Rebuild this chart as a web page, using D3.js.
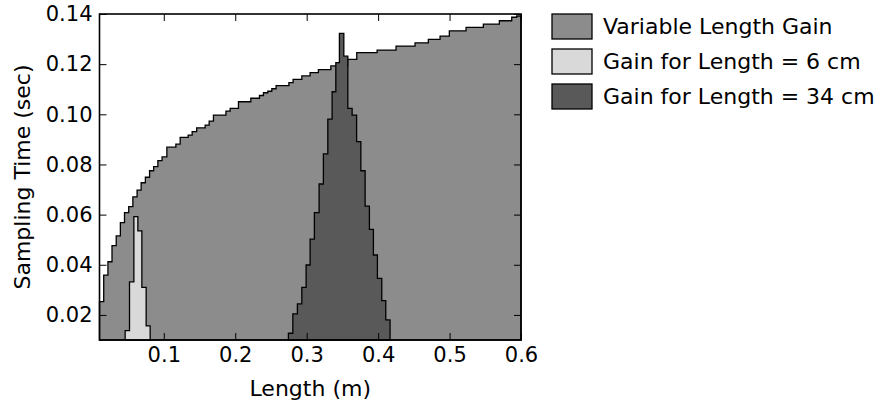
<!DOCTYPE html>
<html>
<head>
<meta charset="utf-8">
<script src="https://cdn.jsdelivr.net/npm/d3@7"></script>
<style>
  body { margin: 0; background: #fff; }
  text { font-family: "DejaVu Sans", sans-serif; fill: #000; }
</style>
</head>
<body>
<div class="chart"></div>
<script>
//Config
var width = 883,
    height = 404,
    margin = {
      top : 14,
      bottom : 64,
      right : 362,
      left : 99.5
    };

//Data (length in m, sampling time in sec) - step runs
var gainLen = [0.0100, 0.0159, 0.0218, 0.0275, 0.0334, 0.0392, 0.0450, 0.0509, 0.0567, 0.0626,
               0.0683, 0.0742, 0.0801, 0.0858, 0.0917, 0.0976, 0.1043, 0.1169, 0.1229, 0.1341,
               0.1397, 0.1460, 0.1579, 0.1635, 0.1695, 0.1870, 0.1929, 0.2045, 0.2218, 0.2339,
               0.2395, 0.2456, 0.2512, 0.2572, 0.2751, 0.2810, 0.2932, 0.3048, 0.3164, 0.3338,
               0.3573, 0.3701, 0.3986, 0.4251, 0.4517, 0.4703, 0.4867, 0.4997, 0.5231, 0.5473,
               0.5697, 0.5870, 0.5940, 0.6000];
var gainTime = [0.0253, 0.0359, 0.0412, 0.0476, 0.0515, 0.0568, 0.0608, 0.0632, 0.0671, 0.0698,
                0.0727, 0.0749, 0.0775, 0.0791, 0.0815, 0.0830, 0.0869, 0.0881, 0.0908, 0.0917,
                0.0931, 0.0946, 0.0957, 0.0973, 0.0997, 0.1013, 0.1024, 0.1050, 0.1064, 0.1075,
                0.1086, 0.1092, 0.1102, 0.1114, 0.1126, 0.1139, 0.1153, 0.1166, 0.1178, 0.1193,
                0.1219, 0.1246, 0.1256, 0.1272, 0.1285, 0.1299, 0.1312, 0.1333, 0.1347, 0.1360,
                0.1373, 0.1387, 0.1392, 0.1392];

var len6Len = [0.0459, 0.0520, 0.0581, 0.0637, 0.0693, 0.0753, 0.0809];
var len6Time = [0.0137, 0.0332, 0.0592, 0.0535, 0.0310, 0.0156, 0.0156];

var len34Len = [0.2744, 0.2806, 0.2870, 0.2932, 0.2992, 0.3048, 0.3108, 0.3174, 0.3234, 0.3296,
                0.3356, 0.3408, 0.3458, 0.3520, 0.3576, 0.3636, 0.3699, 0.3758, 0.3818, 0.3878,
                0.3934, 0.3990, 0.4051, 0.4107, 0.4167];
var len34Time = [0.0127, 0.0204, 0.0244, 0.0310, 0.0399, 0.0502, 0.0608, 0.0722, 0.0842, 0.0981,
                 0.1090, 0.1206, 0.1323, 0.1232, 0.1024, 0.0997, 0.0891, 0.0775, 0.0634, 0.0541,
                 0.0439, 0.0346, 0.0257, 0.0180, 0.0180];

var xTicks = [0.1, 0.2, 0.3, 0.4, 0.5, 0.6];
var yTicks = [0.02, 0.04, 0.06, 0.08, 0.10, 0.12, 0.14];

var seriesNames = ["Variable Length Gain", "Gain for Length = 6 cm", "Gain for Length = 34 cm"];
var seriesColors = ["#8c8c8c", "#d9d9d9", "#595959"];

//Instance element
var svg = d3.select(".chart")
    .append("svg")
    .attr("width", width)
    .attr("height", height);

var x = d3.scaleLinear()
    .domain([0.01, 0.6])
    .range([margin.left, width - margin.right]);

var y = d3.scaleLinear()
    .domain([0.01, 0.14])
    .range([height - margin.bottom, margin.top]);

var area = d3.area()
    .curve(d3.curveStepAfter)
    .x(function (d) { return x(d[0]); })
    .y0(y(0.01))
    .y1(function (d) { return y(d[1]); });

var series = [
  d3.zip(gainLen, gainTime),
  d3.zip(len6Len, len6Time),
  d3.zip(len34Len, len34Time)
];

svg.append("g")
  .selectAll("path")
  .data(series)
  .enter()
  .append("path")
  .attr("d", area)
  .style("fill", function (d, i) { return seriesColors[i]; })
  .style("stroke", "#000")
  .style("stroke-width", "1.3px")
  .style("stroke-linejoin", "miter");

//Axes (ticks inside on all four sides)
var plotBottom = height - margin.bottom,
    plotRight = width - margin.right;

function styleAxis(g) {
  g.select(".domain").remove();
  g.selectAll(".tick line").style("stroke", "#000").style("stroke-width", "1px");
  g.selectAll(".tick text")
    .style("font-family", "'DejaVu Sans', sans-serif")
    .style("font-size", "21px")
    .style("fill", "#000");
}

svg.append("g")
  .attr("transform", "translate(0," + plotBottom + ")")
  .call(d3.axisBottom(x).tickValues(xTicks).tickSize(-7).tickPadding(7).tickFormat(d3.format(".1f")))
  .call(styleAxis);

svg.append("g")
  .attr("transform", "translate(0," + margin.top + ")")
  .call(d3.axisTop(x).tickValues(xTicks).tickSize(-7).tickFormat(""))
  .call(styleAxis);

svg.append("g")
  .attr("transform", "translate(" + margin.left + ",0)")
  .call(d3.axisLeft(y).tickValues(yTicks).tickSize(-7).tickPadding(7).tickFormat(d3.format(".2f")))
  .call(styleAxis);

svg.append("g")
  .attr("transform", "translate(" + plotRight + ",0)")
  .call(d3.axisRight(y).tickValues(yTicks).tickSize(-7).tickFormat(""))
  .call(styleAxis);

svg.append("rect")
  .attr("x", margin.left)
  .attr("y", margin.top)
  .attr("width", plotRight - margin.left)
  .attr("height", plotBottom - margin.top)
  .style("fill", "none")
  .style("stroke", "#000")
  .style("stroke-width", "1.6px");

//Axis labels
svg.append("text")
  .attr("x", (margin.left + plotRight) / 2)
  .attr("y", 396)
  .style("text-anchor", "middle")
  .style("font-size", "22px")
  .text("Length (m)");

svg.append("text")
  .attr("transform", "translate(29.5," + (margin.top + plotBottom) / 2 + ") rotate(-90)")
  .style("text-anchor", "middle")
  .style("font-size", "22px")
  .text("Sampling Time (sec)");

//Legend
var legend = svg.append("g")
  .selectAll("g")
  .data(seriesNames)
  .enter()
  .append("g")
  .attr("transform", function (d, i) { return "translate(552," + (14 + i * 35) + ")"; });

legend.append("rect")
  .attr("width", 40)
  .attr("height", 25)
  .style("fill", function (d, i) { return seriesColors[i]; })
  .style("stroke", "#000")
  .style("stroke-width", "1.3px");

legend.append("text")
  .attr("x", 51)
  .attr("y", 12.5)
  .attr("dy", "0.36em")
  .style("font-size", "22px")
  .text(function (d) { return d; });
</script>
</body>
</html>
